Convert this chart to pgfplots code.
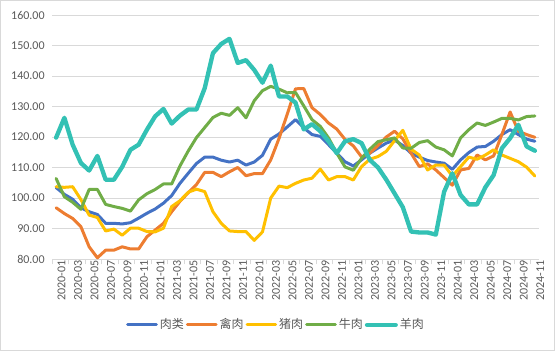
\documentclass[border=0pt]{standalone}
\usepackage{fontspec}
\setmainfont{Carlito}
\newfontfamily\cjk{Noto Sans CJK SC}
\usepackage{pgfplots}
\usepackage{pgfplotstable}
\pgfplotsset{compat=1.18}
\definecolor{cBlue}{HTML}{4472C4}
\definecolor{cOrange}{HTML}{ED7D31}
\definecolor{cYellow}{HTML}{FFC000}
\definecolor{cGreen}{HTML}{70AD47}
\definecolor{cTeal}{HTML}{33C1B4}
\definecolor{cGrid}{HTML}{D9D9D9}
\definecolor{cText}{HTML}{595959}
\pgfplotstableread{
i meat poultry pork beef mutton
0 103.4 96.8 103.7 106.4 119.8
1 101.2 94.9 103.5 100.4 126.3
2 99.6 93.3 103.7 98.6 117.5
3 96.8 90.6 99.5 96.3 111.5
4 95.5 84.0 94.4 102.8 109.0
5 94.6 80.4 93.6 102.8 113.8
6 91.7 82.9 89.2 97.9 106.0
7 91.7 82.9 89.8 97.2 106.0
8 91.5 84.0 87.8 96.6 110.2
9 91.9 83.3 90.1 95.7 115.8
10 93.4 83.3 90.1 99.4 117.5
11 95.0 87.3 89.0 101.4 122.4
12 96.4 89.5 88.9 102.8 126.8
13 98.3 91.7 90.1 104.6 129.2
14 100.8 95.5 97.2 104.6 124.4
15 104.8 98.9 99.1 110.5 127.0
16 108.1 101.7 101.9 115.4 129.0
17 111.3 104.4 102.9 119.8 129.0
18 113.4 108.4 102.1 123.1 136.0
19 113.4 108.4 95.5 126.4 147.5
20 112.4 107.0 91.7 127.8 150.5
21 111.8 108.6 89.2 127.1 152.2
22 112.4 110.0 89.0 129.6 144.3
23 110.8 107.3 89.0 126.3 145.2
24 111.8 108.0 86.1 131.9 142.0
25 114.0 108.0 88.9 135.2 137.8
26 119.3 112.5 100.0 136.6 143.4
27 121.0 119.5 103.9 135.7 133.3
28 123.3 127.5 103.4 134.5 133.3
29 125.7 135.8 104.8 134.6 131.3
30 123.0 135.9 105.9 130.2 122.5
31 120.8 129.6 106.5 125.7 124.2
32 120.2 127.4 109.5 123.5 121.9
33 117.5 124.6 105.9 119.7 118.6
34 114.7 122.6 107.0 114.7 114.7
35 111.9 119.2 107.0 110.2 118.6
36 110.5 117.1 105.9 109.1 119.3
37 112.5 113.5 110.3 113.0 118.0
38 114.7 114.7 112.7 116.0 112.5
39 116.4 117.2 113.6 118.5 110.0
40 118.0 120.0 115.3 119.1 106.0
41 119.0 121.9 118.8 119.7 101.5
42 117.2 119.4 122.2 116.4 97.0
43 114.7 114.7 116.0 116.3 89.0
44 113.4 110.3 114.1 118.2 88.7
45 112.3 111.2 109.2 118.8 88.7
46 111.8 109.2 110.8 116.7 88.0
47 111.4 106.7 110.8 115.8 102.0
48 109.4 104.2 107.2 113.8 108.1
49 112.5 109.2 110.3 119.7 101.0
50 114.9 109.7 113.4 122.4 97.9
51 116.7 114.1 112.7 124.6 97.9
52 116.9 112.5 114.1 123.8 103.5
53 118.6 113.8 115.8 124.9 107.5
54 120.8 120.8 114.1 126.1 116.3
55 122.4 128.2 113.0 126.1 119.6
56 120.8 121.9 111.9 125.6 124.0
57 119.3 120.8 110.1 126.7 116.9
58 118.6 119.9 107.2 126.9 115.5
}\datatable
\begin{document}
\begin{tikzpicture}
\path[use as bounding box] (0,0) rectangle (416.25pt,263.25pt);
\draw[cGrid, line width=0.75pt] (0.4pt,0.4pt) rectangle (415.85pt,262.85pt);
\begin{axis}[
  at={(39pt,69pt)}, anchor=south west,
  scale only axis, width=365.25pt, height=183pt,
  xmin=-0.5, xmax=58.5, ymin=80, ymax=160,
  separate axis lines,
  axis x line*=bottom, axis y line*=left,
  x axis line style={cGrid, line width=0.75pt},
  y axis line style={draw=none},
  ytick={80,90,...,160},
  yticklabels={80.00,90.00,100.00,110.00,120.00,130.00,140.00,150.00,160.00},
  ymajorgrids, grid style={cGrid, line width=0.75pt},
  xtick={0,2,...,58},
  xticklabels={2020-01,2020-03,2020-05,2020-07,2020-09,2020-11,2021-01,2021-03,2021-05,2021-07,2021-09,2021-11,2022-01,2022-03,2022-05,2022-07,2022-09,2022-11,2023-01,2023-03,2023-05,2023-07,2023-09,2023-11,2024-01,2024-03,2024-05,2024-07,2024-09,2024-11},
  minor xtick={-0.5,1.5,...,58.5},
  major tick length=0pt, minor tick length=4pt, tick align=outside,
  minor tick style={cGrid, line width=0.75pt},
  xticklabel style={rotate=90, anchor=east, font=\fontsize{9}{10}\selectfont, text=cText, inner sep=1pt, yshift=-4pt},
  yticklabel style={font=\fontsize{9}{10}\selectfont, text=cText, xshift=-2pt},
  legend columns=5,
  legend style={at={(0.46,-0.27)}, anchor=center, draw=none, fill=none,
    font=\cjk\fontsize{9}{10}\selectfont, text=cText,
    /tikz/every even column/.append style={column sep=0pt},
    /tikz/every odd column/.append style={column sep=0pt},
    nodes={inner xsep=1.5pt, inner ysep=1pt}},
  legend image code/.code={\draw[#1] (0pt,0pt) -- (21.5pt,0pt);},
  no markers,
  every axis plot/.append style={line join=round, line cap=round},
]
\addplot[cBlue, line width=2.25pt] table[x=i, y=meat] {\datatable};
\addlegendentry{肉类}
\addplot[cOrange, line width=2.25pt] table[x=i, y=poultry] {\datatable};
\addlegendentry{禽肉}
\addplot[cYellow, line width=2.25pt] table[x=i, y=pork] {\datatable};
\addlegendentry{猪肉}
\addplot[cGreen, line width=2.25pt] table[x=i, y=beef] {\datatable};
\addlegendentry{牛肉}
\addplot[cTeal, line width=3.25pt] table[x=i, y=mutton] {\datatable};
\addlegendentry{羊肉}
\end{axis}
\end{tikzpicture}
\end{document}
